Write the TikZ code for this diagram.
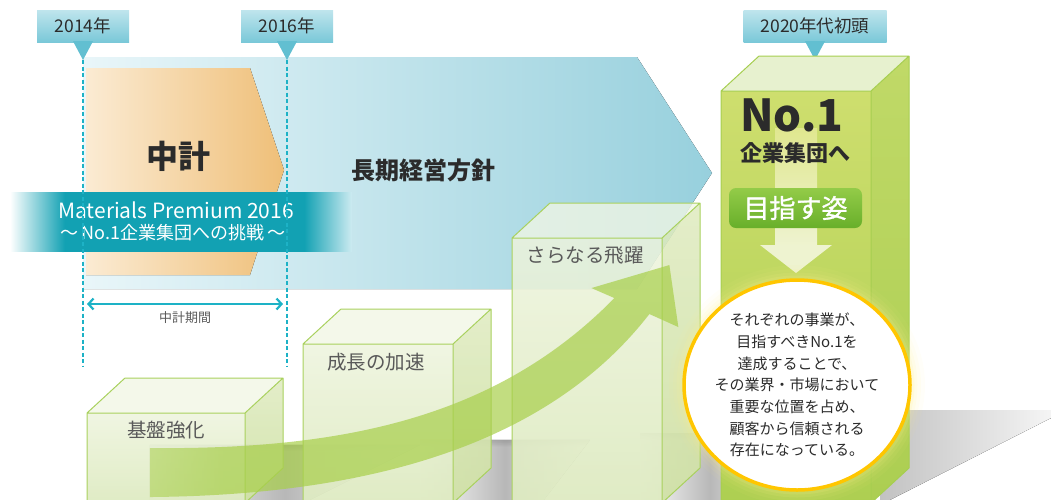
\documentclass[tikz,border=0pt]{standalone}
\usepackage{fontspec}
\setmainfont{Noto Sans CJK JP}
\newfontfamily\semibold{Noto Sans CJK JP}[FakeBold=1.2]
\usetikzlibrary{arrows.meta,calc,fadings}
\definecolor{tagtop}{HTML}{BFE5ED}
\definecolor{tagbot}{HTML}{7AC8D8}
\definecolor{tagpoint}{HTML}{62BFD1}
\definecolor{guide}{HTML}{1DB2C6}
\definecolor{bandteal}{HTML}{12A1B3}
\definecolor{bandend}{HTML}{CDEBF1}
\definecolor{policyA}{HTML}{E9F6F9}
\definecolor{policyB}{HTML}{97D0DD}
\definecolor{midA}{HTML}{FBEBD3}
\definecolor{midB}{HTML}{EFBF78}
\definecolor{ink}{HTML}{2B2B2B}
\definecolor{boxink}{HTML}{595959}
\definecolor{pfront1}{HTML}{F6F9EE}
\definecolor{pfront2}{HTML}{D3E4AC}
\definecolor{pside1}{HTML}{E7F0CF}
\definecolor{pside2}{HTML}{C6DB93}
\definecolor{plid}{HTML}{F1F6E4}
\definecolor{pline}{HTML}{A9D15E}
\definecolor{dfront1}{HTML}{DFE67D}
\definecolor{dfront2}{HTML}{9DC843}
\definecolor{dside1}{HTML}{CBDF73}
\definecolor{dside2}{HTML}{A2C947}
\definecolor{dlid}{HTML}{E7F1CF}
\definecolor{dline}{HTML}{A6CE50}
\definecolor{beam1}{HTML}{E0E78F}
\definecolor{beam2}{HTML}{EEF3D0}
\definecolor{btn1}{HTML}{93CB48}
\definecolor{btn2}{HTML}{68AF2A}
\definecolor{leaf}{HTML}{A8CF4A}
\definecolor{gold}{HTML}{FFC600}
\definecolor{halo}{HTML}{FFF08A}
\def\Lead{それぞれの事業が、\\目指すべきNo.1を\\達成することで、\\その業界・市場において\\重要な位置を占め、\\顧客から信頼される\\存在になっている。}

% band across the plan period: fades in, teal, fades out
\pgfdeclarehorizontalshading{bandshade}{100bp}{color(0bp)=(white); color(25bp)=(white); color(33bp)=(bandteal); color(68bp)=(bandteal); color(75bp)=(bandend); color(100bp)=(bandend)}
% tail of the growth arrow comes out of nothing
\pgfdeclarehorizontalshading{tailshade}{100bp}{color(0bp)=(black); color(25bp)=(black); color(41bp)=(white); color(100bp)=(white)}
\begin{tikzfadingfrompicture}[name=tailfade]
  \shade[shading=tailshade] (-50bp,-50bp) rectangle (50bp,50bp);
\end{tikzfadingfrompicture}
% darker colour of a face only shows towards the floor
\begin{tikzfadingfrompicture}[name=upfade]
  \shade[top color=black,bottom color=white] (-50bp,-50bp) rectangle (50bp,50bp);
\end{tikzfadingfrompicture}
% soft upper edge for the floor shadows
\pgfdeclareverticalshading{softshade}{100bp}{color(0bp)=(white); color(25bp)=(white); color(60bp)=(white); color(75bp)=(black); color(100bp)=(black)}
\begin{tikzfadingfrompicture}[name=softtop]
  \shade[shading=softshade] (-50bp,-50bp) rectangle (50bp,50bp);
\end{tikzfadingfrompicture}

% one step: left, right and top of the front face, style prefix
\newcommand{\growbox}[4]{%
  \fill[#4front] (#1,#3) rectangle (#2,503);
  \fill[#4front2] (#1,#3) rectangle (#2,503);
  \fill[#4side] (#2,#3) -- ++(38,-35) -- (#2+38,468) -- (#2,503) -- cycle;
  \fill[#4side2] (#2,#3) -- ++(38,-35) -- (#2+38,468) -- (#2,503) -- cycle;
  \fill[#4lid] (#1,#3) -- ++(38,-35) -- (#2+38,#3-35) -- (#2,#3) -- cycle;
  \draw[#4edge] (#1,503) -- (#1,#3) -- (#2,#3) -- (#2,503)
    (#1,#3) -- ++(38,-35) -- (#2+38,#3-35) -- (#2,#3)
    (#2+38,#3-35) -- (#2+38,468) -- (#2,503);
}

\begin{document}
\begin{tikzpicture}[x=1pt,y=-1pt,% pixel grid, y runs downwards
    every node/.style={inner sep=0pt,text=ink},
    tagbox/.style={rectangle,minimum height=32pt,top color=tagtop,bottom color=tagbot,
                   font=\fontsize{17.5}{20}\selectfont},
    tagtip/.style={fill=tagpoint},
    guideline/.style={draw=guide,line width=1.4pt,dash pattern=on 4pt off 2.5pt},
    spanline/.style={draw=guide,line width=2.2pt,
                     {Straight Barb[length=5pt,width=11pt]}-{Straight Barb[length=5pt,width=11pt]}},
    policy/.style={left color=policyA,right color=policyB},
    midterm/.style={left color=midA,right color=midB},
    floorshade/.style={left color=white,right color=white,middle color=black!28,path fading=softtop},
    palefront/.style={fill=pfront1,fill opacity=.82},
    palefront2/.style={fill=pfront2,fill opacity=.85,path fading=upfade},
    paleside/.style={fill=pside1,fill opacity=.82},
    paleside2/.style={fill=pside2,fill opacity=.85,path fading=upfade},
    palelid/.style={fill=plid,fill opacity=.78},
    paleedge/.style={draw=pline,line width=1pt,line join=round},
    deepfront/.style={fill=dfront1},
    deepfront2/.style={fill=dfront2,path fading=upfade},
    deepside/.style={fill=dside1},
    deepside2/.style={fill=dside2,path fading=upfade},
    deeplid/.style={fill=dlid},
    deepedge/.style={draw=dline,line width=1pt,line join=round},
    growth/.style={fill=leaf,fill opacity=.7,path fading=tailfade},
    boxword/.style={text=boxink,font=\fontsize{19.5}{22}\selectfont},
    goalbtn/.style={rectangle,rounded corners=7pt,minimum width=133pt,minimum height=40pt,
                    top color=btn1,bottom color=btn2,text=white,font=\fontsize{26}{28}\semibold},
    bubble/.style={fill=white,draw=gold,line width=3.5pt},
    bubbleword/.style={align=center,font=\fontsize{15}{21.7}\selectfont}
  ]
  \useasboundingbox (0,0) rectangle (1051,499);

  % long-term policy arrow with the mid-term plan on it
  \fill[policy] (83,57) -- (637,57) -- (712,173) -- (637,289) -- (83,289) -- cycle;
  \fill[midterm] (86,68) -- (250,68) -- (284,170) -- (250,275) -- (86,275) -- cycle;
  \node[font=\fontsize{32}{34}\selectfont\bfseries] (K1) at (178,156) {中計};
  \node[font=\fontsize{24}{26}\selectfont\bfseries] (K2) at (423,170) {長期経営方針};

  % Materials Premium band
  \fill[shading=bandshade] (10,192) rectangle (352,251);
  \node[text=white,font=\fontsize{21}{23}\selectfont] (M1) at (176,210) {Materials Premium 2016};
  \node[text=white,font=\fontsize{18}{20}\selectfont] (M2) at (173,233) {～\,No.1企業集団への挑戦\,～};

  % years and the plan period
  \coordinate (P1) at (83,60);  \coordinate (D1) at (83,367);
  \coordinate (P2) at (287,60); \coordinate (D2) at (287,367);
  \coordinate (P3) at (815,60);
  \draw[guideline] (P1) -- (D1);
  \draw[guideline] (P2) -- (D2);
  \node[tagbox,minimum width=92pt] (T1) at (83,26) {2014年};
  \node[tagbox,minimum width=92pt] (T2) at (287,26) {2016年};
  \node[tagbox,minimum width=143pt] (T3) at (815,26) {2020年代初頭};
  \foreach \t/\p in {T1/P1,T2/P2,T3/P3}
    \fill[tagtip] ($(\t.south)+(-10,-1)$) -- (\p) -- ($(\t.south)+(10,-1)$) -- cycle;
  \coordinate (A1) at (87,304);
  \coordinate (A2) at (283,304);
  \draw[spanline] (A1) -- (A2);
  \node[text=boxink,font=\fontsize{13}{15}\selectfont] (S1) at (185,318) {中計期間};

  % floor shadows behind the steps
  \fill[floorshade] (150,445) -- (420,445) -- (300,505) -- (150,505) -- cycle;
  \fill[floorshade] (420,440) -- (590,440) -- (540,505) -- (420,505) -- cycle;
  \fill[floorshade] (640,433) -- (780,433) -- (740,505) -- (640,505) -- cycle;
  \fill[left color=black!24,right color=black!4] (880,410) -- (1051,410) -- (1051,418) -- (880,505) -- cycle;

  % the three steps
  \growbox{87}{245}{413}{pale}
  \growbox{303}{453}{344}{pale}
  \growbox{512}{662}{238}{pale}
  \node[boxword] (L1) at (166,430) {基盤強化};
  \node[boxword] (L2) at (376,362) {成長の加速};
  \node[boxword] (L3) at (585,255) {さらなる飛躍};

  % growth arrow
  \fill[growth] (150,448) .. controls (350,450) and (500,415) .. (615,298)
    -- (592,288) -- (670,265) -- (679,327) -- (650,314)
    .. controls (560,430) and (400,495) .. (150,497) -- cycle;

  % the goal
  \growbox{721}{871}{91}{deep}
  \fill[top color=beam1,bottom color=beam2] (775,128) rectangle (817,246);
  \fill[beam2] (760,245) -- (832,245) -- (796,273) -- cycle;
  \node[font=\fontsize{44}{46}\selectfont\bfseries] (N1) at (792,115) {No.1};
  \node[font=\fontsize{22}{24}\selectfont\bfseries] (N2) at (795,153) {企業集団へ};
  \node[goalbtn] (G1) at (795.5,208) {目指す姿};

  % what No.1 means
  \coordinate (C0) at (797,385);
  \foreach \w/\o in {30/.05,22/.07,15/.1,9/.14}
    \draw[halo,line width=\w,opacity=\o] (C0) ellipse [x radius=113,y radius=105];
  \draw[bubble] (C0) ellipse [x radius=113,y radius=105];
  \node[bubbleword] (C1) at (C0) {\Lead};
\end{tikzpicture}
\end{document}
